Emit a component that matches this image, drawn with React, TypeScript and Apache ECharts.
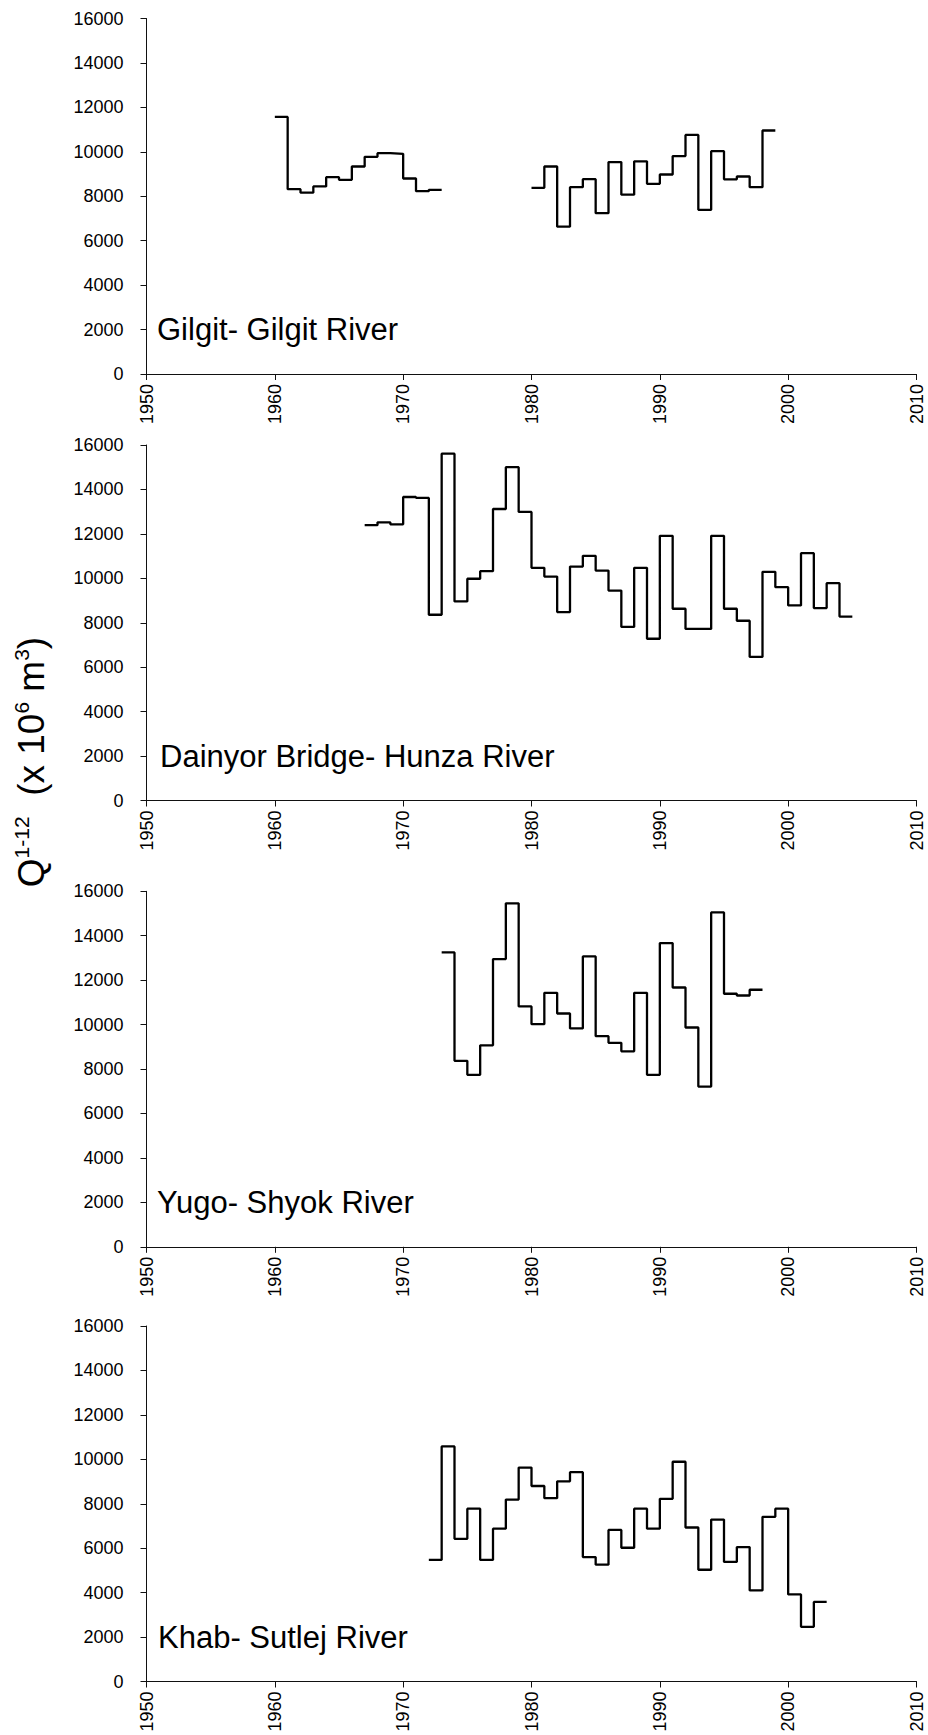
import React, { useEffect, useRef } from "react";
import * as echarts from "echarts";

// ---- Data (annual Q1-12, x 10^6 m^3); each value spans [year, year+1) ----
const gilgitStartA = 1960;
const gilgitValuesA = [11570, 8320, 8160, 8440, 8860, 8740, 9340, 9775, 9940, 9910, 8800, 8230, 8290];
const gilgitStartB = 1980;
const gilgitValuesB = [8380, 9340, 6630, 8410, 8770, 7240, 9540, 8070, 9570, 8560, 8980, 9810, 10760, 7390, 10030, 8760, 8890, 8410, 10960];

const dainyorStart = 1967;
const dainyorValues = [12390, 12520, 12430, 13660, 13620, 8360, 15610, 8960, 9980, 10320, 13120, 15000, 12990, 10470, 10080, 8480, 10530, 11010, 10350, 9450, 7810, 10470, 7280, 11910, 8630, 7720, 7720, 11910, 8630, 8090, 6460, 10290, 9600, 8780, 11130, 8660, 9780, 8280];

const yugoStart = 1973;
const yugoValues = [13250, 8370, 7740, 9070, 12950, 15460, 10820, 10020, 11430, 10500, 9830, 13070, 9480, 9180, 8800, 11430, 7740, 13670, 11670, 9870, 7210, 15050, 11390, 11310, 11570];

const khabStart = 1972;
const khabValues = [5470, 10580, 6420, 7780, 5470, 6880, 8190, 9630, 8800, 8250, 9010, 9420, 5600, 5260, 6820, 6020, 7780, 6880, 8220, 9890, 6930, 5030, 7290, 5380, 6050, 4100, 7410, 7780, 3920, 2460, 3580];

const panelTitles = ["Gilgit- Gilgit River", "Dainyor Bridge- Hunza River", "Yugo- Shyok River", "Khab- Sutlej River"];
const xMin = 1950, xMax = 2010, xStep = 10;
const yMin = 0, yMax = 16000, yStep = 2000;

type Seg = { start: number; values: number[] };
const panelSegments: Seg[][] = [
  [{ start: gilgitStartA, values: gilgitValuesA }, { start: gilgitStartB, values: gilgitValuesB }],
  [{ start: dainyorStart, values: dainyorValues }],
  [{ start: yugoStart, values: yugoValues }],
  [{ start: khabStart, values: khabValues }],
];

// step 'end': each value held until the next year; closing point ends the last year
function stepData(seg: Seg) {
  const out: number[][] = seg.values.map((v, i) => [seg.start + i, v]);
  out.push([seg.start + seg.values.length, seg.values[seg.values.length - 1]]);
  return out;
}

// ---- Layout ----
const FONT = "'Liberation Sans', Arial, sans-serif";
const gridLeft = 146.5;
const gridWidth = 770;
const panelTops = [18.5, 445, 891.3, 1326];
const panelHeight = 355.5;
const titleX = [157, 160, 157, 158];
const titleBaselineOffset = 33.5; // above x axis

export default function App() {
  const ref = useRef<HTMLDivElement>(null);
  useEffect(() => {
    if (!ref.current) return;
    const chart = echarts.init(ref.current, null, { renderer: "svg" });
    const axisLineStyle = { color: "#111", width: 1 };
    const series: any[] = [];
    panelSegments.forEach((segs, i) => {
      segs.forEach((seg) => {
        series.push({
          type: "line",
          xAxisIndex: i,
          yAxisIndex: i,
          step: "end",
          symbol: "none",
          showSymbol: false,
          lineStyle: { color: "#000", width: 2.3 },
          data: stepData(seg),
        });
      });
    });
    const option: any = {
      animation: false,
      backgroundColor: "#fff",
      grid: panelTops.map((t) => ({ left: gridLeft, width: gridWidth, top: t, height: panelHeight, containLabel: false })),
      xAxis: panelTops.map((_, i) => ({
        type: "value",
        gridIndex: i,
        min: xMin,
        max: xMax,
        interval: xStep,
        axisLine: { show: true, onZero: false, lineStyle: axisLineStyle },
        axisTick: { show: true, length: 6, inside: false, lineStyle: axisLineStyle },
        axisLabel: {
          show: true, rotate: 90, fontSize: 18, color: "#000", fontFamily: FONT, margin: 10,
          showMinLabel: true, showMaxLabel: true, formatter: (v: number) => String(v),
        },
        splitLine: { show: false },
      })),
      yAxis: panelTops.map((_, i) => ({
        type: "value",
        gridIndex: i,
        min: yMin,
        max: yMax,
        interval: yStep,
        axisLine: { show: true, lineStyle: axisLineStyle },
        axisTick: { show: true, length: 6, inside: false, lineStyle: axisLineStyle },
        axisLabel: { show: true, fontSize: 18, color: "#000", fontFamily: FONT, margin: 23, formatter: (v: number) => String(v) },
        splitLine: { show: false },
      })),
      series,
      graphic: [
        ...panelTitles.map((t, i) => ({
          type: "text",
          x: titleX[i],
          y: panelTops[i] + panelHeight - titleBaselineOffset - 11,
          style: { text: t, fontSize: 31, fontFamily: FONT, fill: "#000", align: "left", verticalAlign: "middle" },
        })),
        {
          type: "text",
          x: 31,
          y: 762,
          rotation: Math.PI / 2,
          style: {
            text: "{b|Q}{s|1-12}{b|  (x 10}{s|6}{b| m}{s|3}{b|)}",
            align: "center",
            verticalAlign: "middle",
            fill: "#000",
            rich: {
              b: { fontSize: 37, fontFamily: FONT, fill: "#000", lineHeight: 40 },
              s: { fontSize: 21, fontFamily: FONT, fill: "#000", lineHeight: 22, verticalAlign: "top" },
            },
          },
        },
      ],
    };
    chart.setOption(option);
    return () => chart.dispose();
  }, []);
  return <div ref={ref} style={{ position: "absolute", left: 0, top: 0, width: 928, height: 1735 }} />;
}
